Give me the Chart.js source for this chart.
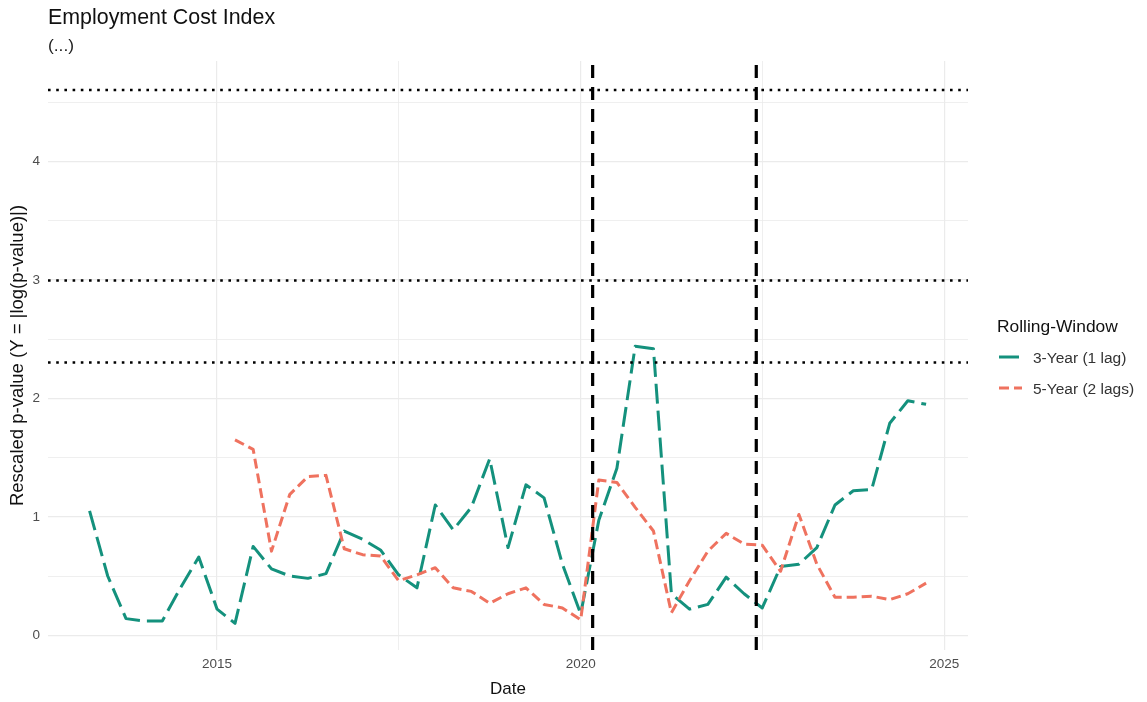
<!DOCTYPE html>
<html>
<head>
<meta charset="utf-8">
<title>Employment Cost Index</title>
<script src="https://cdn.jsdelivr.net/npm/chart.js@4.4.1/dist/chart.umd.min.js"></script>
<style>
  html, body { margin: 0; padding: 0; background: #fff; }
  #wrap { position: relative; width: 1147px; height: 702px; overflow: hidden;
          font-family: "Liberation Sans", Arial, sans-serif; background: #fff; }
  #chart { position: absolute; left: 0; top: 0; }
  .txt { position: absolute; white-space: nowrap; line-height: 1; color: #000; }
  .key { position: absolute; }
</style>
</head>
<body>
<div id="wrap">
  <canvas id="chart" width="1147" height="702"></canvas>
  <div class="txt" style="left:48px; top:7px; font-size:21.4px; color:#111;">Employment Cost Index</div>
  <div class="txt" style="left:48px; top:37px; font-size:17.4px; color:#222;">(...)</div>

  <div class="txt" style="left:997px; top:318px; font-size:17.4px; color:#111;">Rolling-Window</div>
  <svg class="key" style="left:998px; top:351px;" width="26" height="12">
    <line id="key3" x1="1" y1="6" x2="24" y2="6" stroke-width="3"/>
  </svg>
  <div class="txt" style="left:1033px; top:350px; font-size:15.5px; color:#333;">3-Year (1 lag)</div>
  <svg class="key" style="left:998px; top:382px;" width="26" height="12">
    <line id="key5" x1="1" y1="6" x2="24" y2="6" stroke-width="3"/>
  </svg>
  <div class="txt" style="left:1033px; top:381px; font-size:15.5px; color:#333;">5-Year (2 lags)</div>
</div>

<script>
// Quarterly observation dates
const quarters = [
  "2013-04-01","2013-07-01","2013-10-01",
  "2014-01-01","2014-04-01","2014-07-01","2014-10-01",
  "2015-01-01","2015-04-01","2015-07-01","2015-10-01",
  "2016-01-01","2016-04-01","2016-07-01","2016-10-01",
  "2017-01-01","2017-04-01","2017-07-01","2017-10-01",
  "2018-01-01","2018-04-01","2018-07-01","2018-10-01",
  "2019-01-01","2019-04-01","2019-07-01","2019-10-01",
  "2020-01-01","2020-04-01","2020-07-01","2020-10-01",
  "2021-01-01","2021-04-01","2021-07-01","2021-10-01",
  "2022-01-01","2022-04-01","2022-07-01","2022-10-01",
  "2023-01-01","2023-04-01","2023-07-01","2023-10-01",
  "2024-01-01","2024-04-01","2024-07-01","2024-10-01"
];

// Rescaled p-values, 3-year rolling window (1 lag)
const threeYear = [
  1.05, 0.50, 0.14,
  0.12, 0.12, 0.40, 0.66,
  0.22, 0.10, 0.75, 0.56,
  0.50, 0.48, 0.52, 0.88,
  0.81, 0.72, 0.51, 0.40,
  1.10, 0.89, 1.08, 1.49,
  0.74, 1.27, 1.16, 0.60,
  0.18, 0.97, 1.41, 2.44,
  2.42, 0.35, 0.22, 0.26,
  0.49, 0.35, 0.23, 0.58,
  0.60, 0.74, 1.10, 1.22,
  1.23, 1.79, 1.98, 1.95
];

// Rescaled p-values, 5-year rolling window (2 lags); needs a longer history
const fiveYear = [
  null, null, null,
  null, null, null, null,
  null, 1.65, 1.57, 0.71,
  1.19, 1.34, 1.35, 0.73,
  0.68, 0.67, 0.46, 0.51,
  0.57, 0.40, 0.37, 0.27,
  0.35, 0.40, 0.26, 0.23,
  0.13, 1.31, 1.29, 1.08,
  0.88, 0.19, 0.46, 0.71,
  0.86, 0.77, 0.76, 0.54,
  1.02, 0.60, 0.32, 0.32,
  0.33, 0.30, 0.35, 0.44
];

// Event markers (vertical) and significance thresholds (horizontal)
const eventDates = ["2020-03-01", "2022-06-01"];
const thresholds = [4.605, 2.996, 2.303];

// Axis ticks (major + minor gridlines)
const xTicks = [2015, 2017.5, 2020, 2022.5, 2025];
const yTicks = [0, 0.5, 1, 1.5, 2, 2.5, 3, 3.5, 4, 4.5];

const X_MIN = 2012.675, X_MAX = 2025.325;
const Y_MIN = -0.125, Y_MAX = 4.85;

const TEAL = "#14917D";
const SALMON = "#EF725F";
const DASH_3Y = [20, 7];
const DASH_5Y = [10, 5];

function decimalYear(s) {
  const [y, m, d] = s.split("-").map(Number);
  const start = Date.UTC(y, 0, 1), end = Date.UTC(y + 1, 0, 1);
  return y + (Date.UTC(y, m - 1, d) - start) / (end - start);
}

function seriesPoints(values) {
  const pts = [];
  values.forEach((v, i) => { if (v !== null) pts.push({ x: decimalYear(quarters[i]), y: v }); });
  return pts;
}

const refLines = [];
thresholds.forEach(t => refLines.push({
  data: [{ x: X_MIN, y: t }, { x: X_MAX, y: t }],
  borderColor: "#000", borderWidth: 2.6, borderDash: [2.6, 5.6], borderCapStyle: "butt", order: 0
}));
eventDates.forEach(d => refLines.push({
  data: [{ x: decimalYear(d), y: Y_MIN }, { x: decimalYear(d), y: Y_MAX }],
  borderColor: "#000", borderWidth: 3.2, borderDash: [13, 9], borderCapStyle: "butt", order: 0
}));

const datasets = [
  { label: "3-Year (1 lag)", data: seriesPoints(threeYear), borderColor: TEAL, borderWidth: 3,
    borderDash: DASH_3Y, borderCapStyle: "butt", borderJoinStyle: "round", order: 2 },
  { label: "5-Year (2 lags)", data: seriesPoints(fiveYear), borderColor: SALMON, borderWidth: 3,
    borderDash: DASH_5Y, borderCapStyle: "butt", borderJoinStyle: "round", order: 1 },
  ...refLines
];

// legend keys share the series styling
const k3 = document.getElementById("key3");
k3.setAttribute("stroke", TEAL); k3.setAttribute("stroke-dasharray", DASH_3Y.join(" "));
const k5 = document.getElementById("key5");
k5.setAttribute("stroke", SALMON); k5.setAttribute("stroke-dasharray", DASH_5Y.join(" "));

const FONT = "'Liberation Sans', Arial, sans-serif";
const gridWidth = ctx => (ctx.tick && Number.isInteger(ctx.tick.value)) ? 1.2 : 0.8;

new Chart(document.getElementById("chart"), {
  type: "line",
  data: { datasets },
  options: {
    responsive: false,
    animation: false,
    devicePixelRatio: 1,
    layout: { padding: { left: 0, right: 179, top: 61, bottom: 0 } },
    elements: { point: { radius: 0, hoverRadius: 0 }, line: { tension: 0 } },
    plugins: { legend: { display: false }, tooltip: { enabled: false } },
    scales: {
      x: {
        type: "linear",
        min: X_MIN, max: X_MAX,
        afterBuildTicks: s => { s.ticks = xTicks.map(v => ({ value: v })); },
        afterFit: s => { s.height = 52; },
        border: { display: false },
        grid: { color: "#EBEBEB", lineWidth: gridWidth, drawTicks: false },
        ticks: {
          autoSkip: false, maxRotation: 0, padding: 6,
          color: "#4D4D4D", font: { family: FONT, size: 13.5 },
          callback: v => Number.isInteger(v) ? String(v) : ""
        },
        title: { display: true, text: "Date", color: "#111",
                 font: { family: FONT, size: 17 }, padding: { top: 0, bottom: 2 } }
      },
      y: {
        type: "linear",
        min: Y_MIN, max: Y_MAX,
        afterBuildTicks: s => { s.ticks = yTicks.map(v => ({ value: v })); },
        afterFit: s => { s.width = 48; },
        border: { display: false },
        grid: { color: "#EBEBEB", lineWidth: gridWidth, drawTicks: false },
        ticks: {
          autoSkip: false, padding: 8,
          color: "#4D4D4D", font: { family: FONT, size: 13.5 },
          callback: v => Number.isInteger(v) ? String(v) : ""
        },
        title: { display: true, text: "Rescaled p-value (Y = |log(p-value)|)", color: "#111",
                 font: { family: FONT, size: 18.5 }, padding: { top: 7, bottom: 0 } }
      }
    }
  }
});
</script>
</body>
</html>
